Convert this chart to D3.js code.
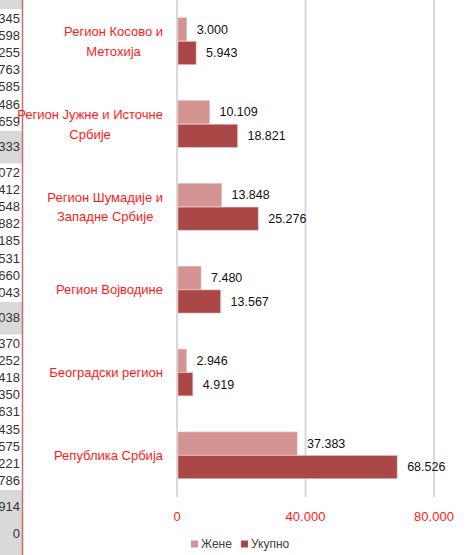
<!DOCTYPE html>
<html>
<head>
<meta charset="utf-8">
<script src="https://cdn.jsdelivr.net/npm/d3@7"></script>
<style>
  html, body { margin: 0; padding: 0; background: #fff; }
  svg { display: block; font-family: "Liberation Sans", Arial, sans-serif; }
</style>
</head>
<body>
<svg id="chart" width="472" height="555"></svg>
<script>
// -- data -- //
const regions = [
    ["Регион Косово и", "Метохија"],
    ["Регион Јужне и Источне", "Србије"],
    ["Регион Шумадије и", "Западне Србије"],
    ["Регион Војводине"],
    ["Београдски регион"],
    ["Република Србија"]
];
const series = ["Жене", "Укупно"];
const zene = [3000, 10109, 13848, 7480, 2946, 37383];
const ukupno = [5943, 18821, 25276, 13567, 4919, 68526];
const xTicks = [0, 40000, 80000];

// leftover spreadsheet column on the left
const stripText = ["345", "598", "255", "763", "585", "486", "659", "333", "072", "412", "548", "882", "185", "531", "660", "043", "038", "370", "252", "418", "350", "631", "435", "575", "221", "786", "914", "0"];
const stripGray = ["333", "038", "914", "0"];

const colors = ["#d39492", "#a94847"];
const fmt = v => d3.format(",")(v).replace(/,/g, ".");

const svg = d3.select("#chart");

// -- left strip -- //
const strip = svg.append("g");
let yy = 9.5;
const rows = stripText.map(t => {
    const h = stripGray.includes(t) ? (t === "0" ? 22 : 33.5) : 17.2;
    const r = {t, y: yy, h, gray: stripGray.includes(t)};
    yy += h;
    return r;
});
strip.append("rect").attr("x", 0).attr("y", 0).attr("width", 22).attr("height", 9)
    .style("fill", "#d9d9d9");
strip.append("rect").attr("x", 0).attr("y", 490).attr("width", 22).attr("height", 65)
    .style("fill", "#d9d9d9");
strip.selectAll(".grow").data(rows.filter(r => r.gray))
    .enter().append("rect")
    .attr("x", 0).attr("y", r => r.y + 1).attr("width", 22).attr("height", r => r.h - 1)
    .style("fill", "#d9d9d9");
strip.selectAll(".stxt").data(rows)
    .enter().append("text")
    .attr("x", 20).attr("y", r => r.y + r.h / 2)
    .attr("text-anchor", "end").attr("dominant-baseline", "central")
    .style("font-size", "13px").style("fill", "#333")
    .text(r => r.t);
strip.append("line").attr("x1", 22.5).attr("x2", 22.5).attr("y1", 0).attr("y2", 555)
    .style("stroke", "#d46a6a").style("stroke-width", 1.5);

// -- scales -- //
const xScale = d3.scaleLinear().domain([0, 80000]).range([177, 434]);
const yScale = d3.scaleBand().domain(d3.range(regions.length)).range([0, 497])
    .paddingInner(0.43).paddingOuter(0.215);
const sScale = d3.scaleBand().domain(series).range([0, yScale.bandwidth()]);

// -- gridlines -- //
svg.append("g").selectAll("line").data(xTicks)
    .enter().append("line")
    .attr("x1", d => xScale(d)).attr("x2", d => xScale(d))
    .attr("y1", 0).attr("y2", 497)
    .style("stroke", "#d9d9d9").style("stroke-width", 2);

// -- bars -- //
const values = [zene, ukupno];
const bars = [];
regions.forEach((r, i) => series.forEach((s, j) => bars.push({i, s, j, v: values[j][i]})));

const plot = svg.append("g");
plot.selectAll(".bar").data(bars)
    .enter().append("rect")
    .attr("class", "bar")
    .attr("x", xScale(0) + 1)
    .attr("y", d => yScale(d.i) + sScale(d.s))
    .attr("width", d => xScale(d.v) - xScale(0) - 1)
    .attr("height", sScale.bandwidth() - 0.5)
    .style("fill", d => colors[d.j])
    .style("stroke", "#e4b8b6").style("stroke-width", 0.6);

plot.selectAll(".val").data(bars)
    .enter().append("text")
    .attr("x", d => xScale(d.v) + 10)
    .attr("y", d => yScale(d.i) + sScale(d.s) + sScale.bandwidth() / 2)
    .attr("dominant-baseline", "central")
    .style("font-size", "12.5px").style("fill", "#111")
    .text(d => fmt(d.v));

// -- category labels -- //
const catG = svg.append("g");
regions.forEach((lines, i) => {
    const g = catG.append("g");
    const cy = yScale(i) + yScale.bandwidth() / 2;
    const lh = 19.5;
    const texts = g.selectAll("text").data(lines).enter().append("text")
        .attr("y", (d, k) => cy + (k - (lines.length - 1) / 2) * lh)
        .attr("dominant-baseline", "central")
        .attr("text-anchor", "middle")
        .style("font-size", "13px").style("fill", "#ff1a1a")
        .text(d => d);
    const maxW = d3.max(texts.nodes(), n => n.getComputedTextLength());
    texts.attr("x", 163 - maxW / 2);
});

// -- x tick labels -- //
svg.append("g").selectAll("text").data(xTicks)
    .enter().append("text")
    .attr("x", d => xScale(d)).attr("y", 516)
    .attr("text-anchor", "middle").attr("dominant-baseline", "central")
    .style("font-size", "13px").style("fill", "#ff1a1a")
    .text(d => fmt(d));

// -- legend -- //
const legendX = [191, 241];
const leg = svg.append("g").selectAll("g").data(series).enter().append("g")
    .attr("transform", (d, i) => `translate(${legendX[i]},544)`);
leg.append("rect").attr("x", 0).attr("y", -3.5).attr("width", 7).attr("height", 7)
    .style("fill", (d, i) => colors[i]);
leg.append("text").attr("x", 10).attr("y", 0).attr("dominant-baseline", "central")
    .style("font-size", "12px").style("fill", "#404040")
    .text(d => d);
</script>
</body>
</html>
